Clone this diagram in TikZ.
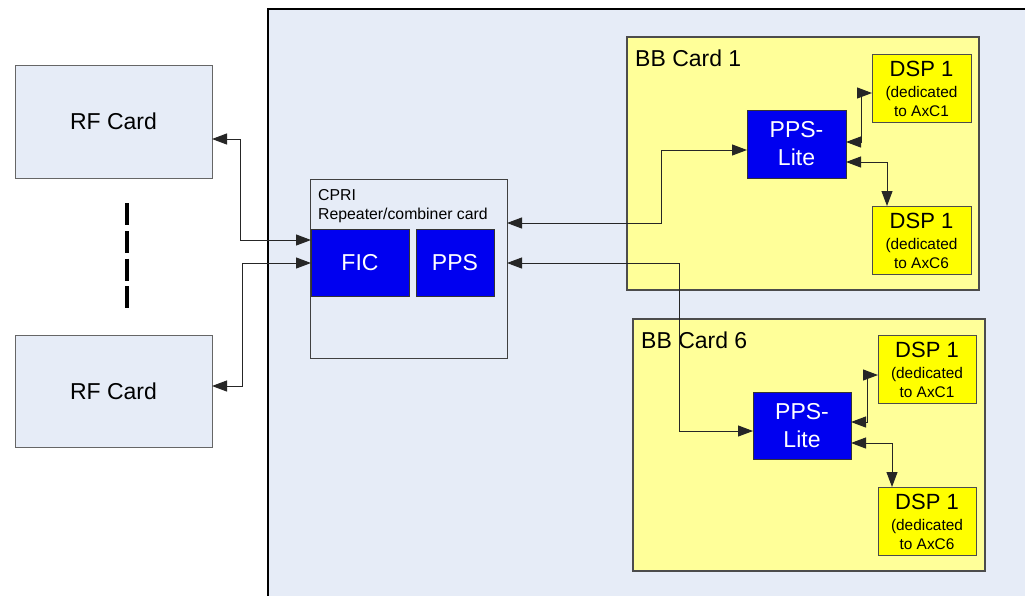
\documentclass[tikz,border=0pt]{standalone}
\usepackage{fontspec}
\setmainfont{Liberation Sans}
\usetikzlibrary{arrows.meta}
\definecolor{bgblue}{RGB}{230,236,247}
\definecolor{bbyellow}{RGB}{255,255,153}
\definecolor{dspyellow}{RGB}{255,255,0}
\definecolor{chipblue}{RGB}{0,0,240}
\begin{document}
\begin{tikzpicture}[x=1pt,y=-1pt,
  rfbox/.style={draw=black!60, line width=1pt, fill=bgblue, inner sep=0pt, outer sep=0pt,
    font=\fontsize{23}{27}\selectfont},
  cpribox/.style={draw=black!75, line width=1pt, fill=bgblue, inner sep=0pt, outer sep=0pt},
  chip/.style={draw=black!80, line width=1pt, fill=chipblue, text=white, inner sep=0pt, outer sep=0pt,
    align=center, font=\fontsize{23}{28}\selectfont},
  bbcard/.style={draw=black!70, line width=1.5pt, fill=bbyellow, inner sep=0pt, outer sep=0pt},
  dspbox/.style={draw=black!70, line width=1pt, fill=dspyellow, inner sep=0pt, outer sep=0pt,
    minimum width=99pt, minimum height=68pt},
  dsptitle/.style={anchor=base, inner sep=0pt, font=\fontsize{22}{22}\selectfont},
  dspsub/.style={anchor=base, inner sep=0pt, font=\fontsize{15.4}{18}\selectfont},
  cardlabel/.style={anchor=base west, inner sep=0pt, font=\fontsize{23}{23}\selectfont},
  cprilabel/.style={anchor=base west, inner sep=0pt, font=\fontsize{15.8}{18}\selectfont},
  conn/.style={draw=black!85, line width=1pt, {Triangle[length=15pt,width=11pt]}-{Triangle[length=15pt,width=11pt]}}
]
\useasboundingbox (0,0) rectangle (1025,595);
\clip (0,0) rectangle (1025,595);
\fill[white] (0,0) rectangle (1025,595);
% main chassis background
\draw[line width=2pt, fill=bgblue] (268,9) rectangle (1040,610);

% RF cards
\node[rfbox, minimum width=197pt, minimum height=113pt] (rf1) at (113.5,121.5) {RF Card};
\node[rfbox, minimum width=197pt, minimum height=112pt] (rf2) at (113.5,391) {RF Card};
\draw[line width=4.5pt, dash pattern=on 22pt off 5.7pt] (127,203.3) -- (127,308);

% CPRI card
\node[cpribox, minimum width=197pt, minimum height=179pt] (cpri) at (408.5,268.5) {};
\node[cprilabel] (cprit1) at ([xshift=8pt,yshift=-21pt]cpri.north west) {CPRI};
\node[cprilabel] (cprit2) at ([xshift=8pt,yshift=-40pt]cpri.north west) {Repeater/combiner card};
\node[chip, minimum width=98pt, minimum height=67pt] (fic) at (360,262.5) {FIC};
\node[chip, minimum width=78pt, minimum height=67pt] (pps) at (455,262.5) {PPS};

% BB card 1
\node[bbcard, minimum width=352pt, minimum height=253pt] (bb1) at (803,163.5) {};
\node[cardlabel] (bb1t) at ([xshift=8pt,yshift=-29pt]bb1.north west) {BB Card 1};
\node[chip, minimum width=99pt, minimum height=68pt] (ppsl1) at (796.5,144) {PPS-\\Lite};
\node[dspbox] (d1a) at (921.5,88) {};
\node[dsptitle] (d1at1) at ([yshift=-22pt]d1a.north) {DSP 1};
\node[dspsub] (d1at2) at ([yshift=-43.5pt]d1a.north) {(dedicated};
\node[dspsub] (d1at3) at ([yshift=-62pt]d1a.north) {to AxC1};
\node[dspbox] (d1b) at (921.5,240) {};
\node[dsptitle] (d1bt1) at ([yshift=-22pt]d1b.north) {DSP 1};
\node[dspsub] (d1bt2) at ([yshift=-43.5pt]d1b.north) {(dedicated};
\node[dspsub] (d1bt3) at ([yshift=-62pt]d1b.north) {to AxC6};

% BB card 6
\node[bbcard, minimum width=352pt, minimum height=252pt] (bb6) at (809,445) {};
\node[cardlabel] (bb6t) at ([xshift=8pt,yshift=-29pt]bb6.north west) {BB Card 6};
\node[chip, minimum width=98pt, minimum height=67pt] (ppsl6) at (802,425.5) {PPS-\\Lite};
\node[dspbox, minimum width=98pt] (d6a) at (927,369) {};
\node[dsptitle] (d6at1) at ([yshift=-22pt]d6a.north) {DSP 1};
\node[dspsub] (d6at2) at ([yshift=-43.5pt]d6a.north) {(dedicated};
\node[dspsub] (d6at3) at ([yshift=-62pt]d6a.north) {to AxC1};
\node[dspbox, minimum width=98pt] (d6b) at (927,521) {};
\node[dsptitle] (d6bt1) at ([yshift=-22pt]d6b.north) {DSP 1};
\node[dspsub] (d6bt2) at ([yshift=-43.5pt]d6b.north) {(dedicated};
\node[dspsub] (d6bt3) at ([yshift=-62pt]d6b.north) {to AxC6};

% connectors
\draw[conn] ([yshift=-17.5pt]rf1.east) -| (240,240) -- ([yshift=22.5pt]fic.west);
\draw[conn] ([yshift=-0.5pt]fic.west) -- (242,263) |- ([yshift=5pt]rf2.east);
\draw[conn] ([yshift=45.5pt]cpri.east) -| (661,150) -- ([yshift=-6pt]ppsl1.west);
\draw[conn] ([yshift=5.5pt]cpri.east) -| (679,431) -- ([yshift=-5.5pt]ppsl6.west);
\draw[conn] ([yshift=2pt]ppsl1.east) -- (861,142) |- ([yshift=-5pt]d1a.west);
\draw[conn] ([yshift=-18pt]ppsl1.east) -| ([xshift=-34.5pt]d1b.north);
\draw[conn] ([yshift=3.5pt]ppsl6.east) -- (867,422) |- ([yshift=-6pt]d6a.west);
\draw[conn] ([yshift=-17.5pt]ppsl6.east) -| ([xshift=-35pt]d6b.north);
\end{tikzpicture}
\end{document}
